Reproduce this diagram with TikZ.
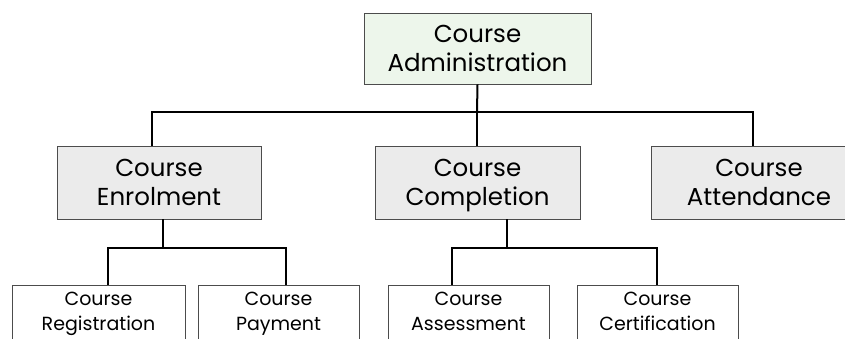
\documentclass[tikz,border=0pt]{standalone}
\usepackage{fontspec}
\setmainfont{Poppins}
\definecolor{rootfill}{RGB}{237,246,235}
\definecolor{midfill}{RGB}{235,235,235}
% two centred lines with fixed struts (big boxes sit the text a little low)
\newcommand\twolines[2]{\strut#1\\\strut#2}
\newcommand\twolinesbig[2]{\rule{0pt}{23.3pt}#1\\#2\rule[-5.7pt]{0pt}{5.7pt}}
\begin{document}
\begin{tikzpicture}[x=1pt,y=-1pt,
  box/.style={draw=black!70,line width=0.9pt,align=center,inner sep=0pt,minimum width=#1},
  topbox/.style={box=227pt,fill=rootfill,minimum height=71pt,font=\fontsize{24.5}{29}\selectfont},
  midbox/.style={box=#1,fill=midfill,minimum height=73pt,font=\fontsize{24.5}{29}\selectfont},
  leafbox/.style={box=#1,fill=white,minimum height=55pt,font=\fontsize{19}{25}\selectfont},
  link/.style={draw=black,line width=2pt}]
\useasboundingbox (0,0) rectangle (845,338);
\clip (0,0) rectangle (845,338);
\fill[white] (0,0) rectangle (845,338);

% top level
\node[topbox] (admin) at (477.5,48.5) {\twolinesbig{Course}{Administration}};

% second level
\node[midbox=204pt] (enrol) at (159,182.5) {\twolinesbig{Course}{Enrolment}};
\node[midbox=205pt] (compl) at (477.5,182.5) {\twolinesbig{Course}{Completion}};
\node[midbox=216pt] (attend) at (759,182.5) {\twolinesbig{Course}{Attendance}};

% third level
\node[leafbox=173pt] (reg) at (98.5,312.5) {\twolines{Course}{Registration}};
\node[leafbox=161pt] (pay) at (278.5,312.5) {\twolines{Course}{Payment}};
\node[leafbox=161pt] (assess) at (468.5,312.5) {\twolines{Course}{Assessment}};
\node[leafbox=161pt] (cert) at (657.5,312.5) {\twolines{Course}{Certification}};

% bus junctions
\coordinate (busA) at (477,112);
\coordinate (busE) at (163,248);
\coordinate (busC) at (507,248);

% connectors from the top box
\draw[link] (admin.south) -- (busA);
\draw[link] (152,112 |- enrol.north) -- (152,112) -- (753,112) -- (753,112 |- attend.north);
\draw[link] (busA) -- (busA |- compl.north);

% connectors from Course Enrolment
\draw[link] (busE |- enrol.south) -- (busE);
\draw[link] (108,248 |- reg.north) -- (108,248) -- (286,248) -- (286,248 |- pay.north);

% connectors from Course Completion
\draw[link] (busC |- compl.south) -- (busC);
\draw[link] (452,248 |- assess.north) -- (452,248) -- (657,248) -- (657,248 |- cert.north);
\end{tikzpicture}
\end{document}
